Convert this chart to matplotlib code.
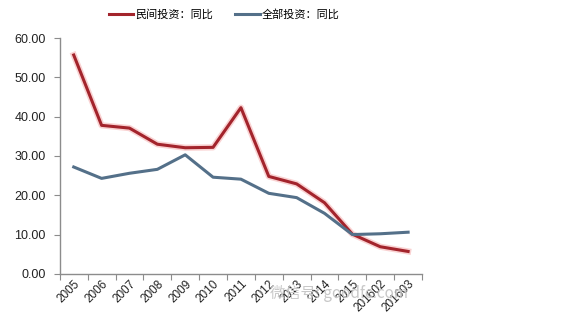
import matplotlib
matplotlib.use("Agg")
import matplotlib.pyplot as plt

plt.rcParams['font.family'] = ['Noto Sans CJK SC', 'DejaVu Sans']

# categories and series (YoY growth, %)
labels = ['2005', '2006', '2007', '2008', '2009', '2010', '2011', '2012',
          '2013', '2014', '2015', '201602', '201603']
private_inv = [55.7, 37.8, 37.1, 33.0, 32.1, 32.2, 42.3, 24.8, 22.9, 18.1,
               10.1, 6.9, 5.7]
total_inv = [27.2, 24.3, 25.6, 26.6, 30.3, 24.6, 24.1, 20.5, 19.4, 15.4,
             10.0, 10.2, 10.6]
yticks = [0, 10, 20, 30, 40, 50, 60]

red = '#a3242c'
blue = '#547089'
grey = '#8c8c8c'

fig = plt.figure(figsize=(5.75, 3.26), dpi=100)
ax = fig.add_axes([0.104, 0.160, 0.630, 0.723])

x = list(range(len(labels)))
# soft glow under red line, like the original
ax.plot(x, private_inv, color='#f08080', lw=4.5, alpha=0.35, solid_joinstyle='round')
l1, = ax.plot(x, private_inv, color=red, lw=2.2, label='民间投资：同比')
l2, = ax.plot(x, total_inv, color=blue, lw=2.2, label='全部投资：同比')

ax.set_xlim(-0.5, len(labels) - 0.5)
ax.set_ylim(0, 60)
ax.set_yticks(yticks)
ax.set_yticklabels(['%.2f' % v for v in yticks], fontsize=9,
                   family=['Liberation Sans', 'DejaVu Sans'], color='#222222')

# tick marks at category boundaries, labels centred
ax.set_xticks([i - 0.5 for i in range(len(labels) + 1)])
ax.set_xticklabels([])
ax.set_xticks(x, minor=True)
ax.set_xticklabels(labels, minor=True, rotation=45, ha='right',
                   rotation_mode='anchor', fontsize=8.5,
                   family=['Liberation Sans', 'DejaVu Sans'], color='#222222')
ax.tick_params(axis='x', which='minor', length=0, pad=3)
ax.tick_params(axis='x', which='major', length=4, color=grey, direction='out')
ax.tick_params(axis='y', length=4, color=grey, direction='out', pad=6)

for s in ['top', 'right']:
    ax.spines[s].set_visible(False)
for s in ['left', 'bottom']:
    ax.spines[s].set_color(grey)
    ax.spines[s].set_linewidth(1.0)

fig.legend(handles=[l1, l2], loc='center', bbox_to_anchor=(0.39, 0.955),
           ncol=2, frameon=False, fontsize=8, handlelength=2.2,
           handletextpad=0.2, columnspacing=2.0)

# faint watermark
fig.text(0.59, 0.10, '微信号: goodfc.com', fontsize=11, color='#c8c8c8',
         ha='center', va='center', zorder=0)

fig.savefig('out.png', dpi=100)
